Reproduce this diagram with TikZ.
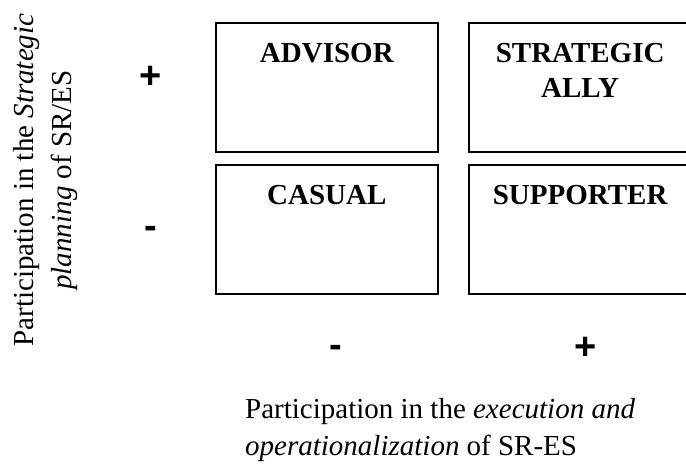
\documentclass[tikz,border=0pt]{standalone}
\usepackage{fontspec}
\setmainfont{Liberation Serif}
\newfontfamily\signfont{Liberation Sans}
\begin{document}
\begin{tikzpicture}[x=1pt,y=-1pt,
  quad/.style={draw,line width=1.8pt,minimum width=222.3pt,minimum height=129pt,inner sep=0pt,outer sep=0pt,anchor=north west},
  title/.style={font=\fontsize{29}{35}\selectfont\bfseries,anchor=north,align=center,inner sep=0pt},
  sign/.style={font=\signfont\bfseries\fontsize{38}{38}\selectfont,inner sep=0pt,anchor=base},
  axis/.style={font=\fontsize{29}{37}\selectfont,inner sep=0pt}]
\useasboundingbox (0,0) rectangle (686,469);
\clip (0,0) rectangle (686,469);
\node[quad] (adv) at (215.7,23.3) {};
\node[quad] (ally) at (469,23.3) {};
\node[quad] (cas) at (215.7,165) {};
\node[quad] (sup) at (469,165) {};
\node[title] (advT) at ([yshift=-20pt]adv.north) {ADVISOR};
\node[title] (allyT) at ([yshift=-20pt]ally.north) {STRATEGIC\\ALLY};
\node[title] (casT) at ([yshift=-20pt]cas.north) {CASUAL};
\node[title] (supT) at ([yshift=-20pt]sup.north) {SUPPORTER};
\node[sign] (yplus) at (150.5,88) {+};
\node[sign] (yminus) at (151,238) {-};
\node[sign] (xminus) at (335.8,357.5) {-};
\node[sign] (xplus) at (585.8,359) {+};
\node[axis,rotate=90,anchor=north,align=center,font=\fontsize{29}{38}\selectfont] (ylab) at (13.5,180) {Participation in the \textit{Strategic}\\\textit{planning} of SR/ES};
\node[axis,anchor=north west,align=left] (xlab) at (245,398.5) {Participation in the \textit{execution and}\\\textit{operationalization} of SR-ES};
\end{tikzpicture}
\end{document}
